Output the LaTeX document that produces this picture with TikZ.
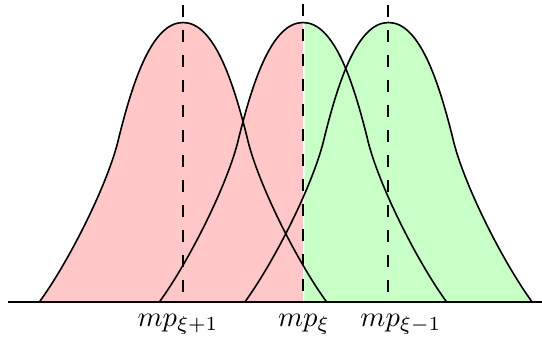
\documentclass[tikz,border=0pt]{standalone}
\usepackage{amsmath}
\begin{document}
\begin{tikzpicture}[x=1pt,y=1pt,
  curve/.style={line width=1.6pt,black},
  vdash/.style={line width=2pt,black,dash pattern=on 12.5pt off 12.5pt},
  base/.style={line width=2pt,black},
  lab/.style={anchor=base,inner sep=0pt,scale=2.85,transform shape}]
\useasboundingbox (0,0) rectangle (542,338);
\colorlet{pinkfill}{red!22}
\colorlet{greenfill}{green!22}
% fills
\begin{scope}
  \clip (0,0) rectangle (302.8,338);
  \foreach \c in {183,303,388.5}{
    \fill[pinkfill] ({\c-144},35.5) .. controls +(30,41) and +(-10,-45) .. ({\c-64},201)
      .. controls +(14,56) and +(-31,0) .. (\c,315.5)
      .. controls +(31,0) and +(-14,56) .. ({\c+64},201)
      .. controls +(10,-45) and +(-30,41) .. ({\c+144},35.5) -- cycle;
  }
\end{scope}
\begin{scope}
  \clip (304.6,0) rectangle (542,338);
  \foreach \c in {183,303,388.5}{
    \fill[greenfill] ({\c-144},35.5) .. controls +(30,41) and +(-10,-45) .. ({\c-64},201)
      .. controls +(14,56) and +(-31,0) .. (\c,315.5)
      .. controls +(31,0) and +(-14,56) .. ({\c+64},201)
      .. controls +(10,-45) and +(-30,41) .. ({\c+144},35.5) -- cycle;
  }
\end{scope}
% curves
\foreach \c in {183,303,388.5}{
  \draw[curve] ({\c-144},35.5) .. controls +(30,41) and +(-10,-45) .. ({\c-64},201)
    .. controls +(14,56) and +(-31,0) .. (\c,315.5)
    .. controls +(31,0) and +(-14,56) .. ({\c+64},201)
    .. controls +(10,-45) and +(-30,41) .. ({\c+144},35.5);
}
% centre lines
\coordinate (t1) at (182.6,333); \coordinate (b1) at (182.6,35.5);
\coordinate (t2) at (302.6,334); \coordinate (b2) at (302.6,35.5);
\coordinate (t3) at (388.3,333); \coordinate (b3) at (388.3,35.5);
\draw[vdash] (t1) -- (b1);
\draw[vdash] (t2) -- (b2);
\draw[vdash] (t3) -- (b3);
% baseline
\coordinate (bl) at (8,35.5); \coordinate (br) at (542,35.5);
\draw[base] (bl) -- (br);
% labels
\node[lab] (l1) at (178,11.3) {$mp_{\xi+1}$};
\node[lab] (l2) at (304,11.3) {$mp_{\xi}$};
\node[lab] (l3) at (401,11.3) {$mp_{\xi-1}$};
\end{tikzpicture}
\end{document}
